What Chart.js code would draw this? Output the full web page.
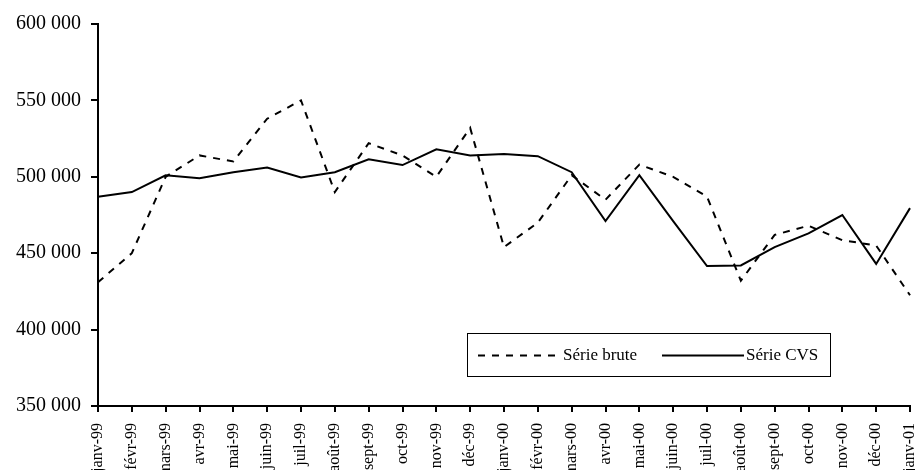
<!DOCTYPE html>
<html>
<head>
<meta charset="utf-8">
<script src="https://cdn.jsdelivr.net/npm/chart.js@4.4.1/dist/chart.umd.min.js"></script>
<style>
  html, body { margin: 0; padding: 0; background: #fff; overflow: hidden; }
  #wrap { width: 915px; height: 470px; }
</style>
</head>
<body>
<div id="wrap"><canvas id="chart"></canvas></div>
<script>
var months = ['janv-99', 'févr-99', 'mars-99', 'avr-99', 'mai-99', 'juin-99', 'juil-99', 'août-99',
    'sept-99', 'oct-99', 'nov-99', 'déc-99', 'janv-00', 'févr-00', 'mars-00', 'avr-00', 'mai-00',
    'juin-00', 'juil-00', 'août-00', 'sept-00', 'oct-00', 'nov-00', 'déc-00', 'janv-01'];

var serieBrute = [431000, 450000, 500000, 514000, 510000, 538000, 550000, 490000,
    522000, 514000, 500000, 532000, 454000, 470000, 501000, 485000, 508000,
    500000, 487000, 432000, 462000, 468000, 458500, 455000, 422500];

var serieCVS = [487000, 490000, 501000, 499000, 503000, 506000, 499500, 503000,
    511500, 507700, 518000, 514000, 515000, 513500, 503000, 471000, 501000,
    471000, 441600, 442000, 454000, 463000, 475000, 443000, 479500];

var yTicks = [350000, 400000, 450000, 500000, 550000, 600000];

function fmt(v) {
    return String(v).replace(/\B(?=(\d{3})+(?!\d))/g, ' ');
}

// legend box drawn inside the plot, like the original
var boxLegend = {
    id: 'boxLegend',
    afterDraw: function (chart) {
        var ctx = chart.ctx;
        var x = 467, y = 333, w = 363, h = 43;
        ctx.save();
        ctx.strokeStyle = '#000';
        ctx.lineWidth = 1;
        ctx.strokeRect(x + 0.5, y + 0.5, w, h);
        ctx.font = '17px "Liberation Serif", "Times New Roman", serif';
        ctx.textBaseline = 'middle';
        ctx.fillStyle = '#000';
        var cy = y + h / 2 + 1;
        var items = [
            { ds: chart.data.datasets[0], x0: 478, x1: 561 },
            { ds: chart.data.datasets[1], x0: 662, x1: 744 }
        ];
        items.forEach(function (it) {
            ctx.beginPath();
            ctx.setLineDash(it.ds.borderDash || []);
            ctx.lineWidth = it.ds.borderWidth;
            ctx.moveTo(it.x0, cy);
            ctx.lineTo(it.x1, cy);
            ctx.stroke();
            ctx.setLineDash([]);
            ctx.fillText(it.ds.label, it.x1 + 2, cy);
        });
        ctx.restore();
    }
};

var ctx = document.getElementById('chart').getContext('2d');
var chart = new Chart(ctx, {
    type: 'line',
    data: {
        labels: months,
        datasets: [{
            label: 'Série brute',
            data: serieBrute,
            borderColor: '#000',
            borderWidth: 2,
            borderDash: [7, 7],
            pointRadius: 0,
            tension: 0,
            fill: false
        }, {
            label: 'Série CVS',
            data: serieCVS,
            borderColor: '#000',
            borderWidth: 2,
            pointRadius: 0,
            tension: 0,
            fill: false
        }]
    },
    options: {
        responsive: true,
        maintainAspectRatio: false,
        animation: false,
        layout: { padding: { top: 24, right: 5, left: 0, bottom: 0 } },
        plugins: {
            legend: { display: false },
            tooltip: { enabled: false }
        },
        scales: {
            x: {
                offset: false,
                grid: { drawOnChartArea: false, drawTicks: true, tickLength: 6, color: '#000', lineWidth: 2 },
                border: { color: '#000', width: 2 },
                ticks: {
                    autoSkip: false,
                    maxRotation: 90,
                    minRotation: 90,
                    padding: 11,
                    color: '#000',
                    font: { family: '"Liberation Serif", "Times New Roman", serif', size: 16 }
                },
                afterFit: function (scale) {
                    scale.height = 64;
                    scale.paddingLeft = 0;
                    scale.paddingRight = 0;
                }
            },
            y: {
                min: 350000,
                max: 600000,
                afterBuildTicks: function (scale) {
                    scale.ticks = yTicks.map(function (v) { return { value: v }; });
                },
                grid: { drawOnChartArea: false, drawTicks: true, tickLength: 7, color: '#000', lineWidth: 2 },
                border: { color: '#000', width: 2 },
                ticks: {
                    padding: 10,
                    color: '#000',
                    font: { family: '"Liberation Serif", "Times New Roman", serif', size: 20 },
                    callback: function (v) { return fmt(v); }
                },
                afterFit: function (scale) {
                    scale.width = 98;
                    scale.paddingTop = 0;
                    scale.paddingBottom = 0;
                }
            }
        }
    },
    plugins: [boxLegend]
});
</script>
</body>
</html>
